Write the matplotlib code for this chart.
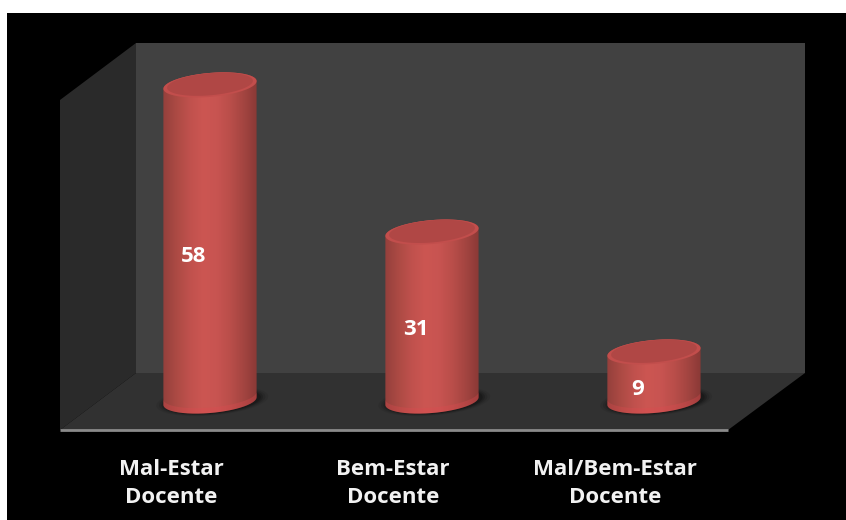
import numpy as np
import matplotlib
matplotlib.use("Agg")
import matplotlib.pyplot as plt
from matplotlib.patches import Polygon, Rectangle, PathPatch
from matplotlib.path import Path

categories = ["Mal-Estar\nDocente", "Bem-Estar\nDocente", "Mal/Bem-Estar\nDocente"]
values = [58, 31, 9]

plt.rcParams["font.family"] = ["Open Sans", "DejaVu Sans"]

fig = plt.figure(figsize=(8.46, 5.2), dpi=100, facecolor="white")

# background box, in pixel units
bg = fig.add_axes([0, 0, 1, 1])
bg.set_xlim(0, 846)
bg.set_ylim(520, 0)
bg.axis("off")
bg.add_patch(Rectangle((7, 13), 839, 507, color="black", lw=0))
bg.add_patch(Polygon([(136, 43), (805, 43), (805, 373), (136, 373)], color="#414141", lw=0))
bg.add_patch(Polygon([(60, 100), (136, 43), (136, 373), (60, 430)], color="#2a2a2a", lw=0))
bg.add_patch(Polygon([(60, 430), (136, 373), (805, 373), (728, 430)], color="#313131", lw=0))
bg.plot([60, 728], [430, 430], color="#8a8a8a", lw=2, solid_capstyle="butt")

# value axes on top of the box
ax = fig.add_axes([0, 0, 1, 1])
ax.patch.set_alpha(0)
ax.axis("off")

half_w = 0.21
half_h = 2.2
tilt = 0.7

side_colors = ["#94403c", "#ac4a44", "#c0514d", "#cc5652", "#c85451", "#ba4e4a", "#a44541", "#8a3936"]
side_cmap = matplotlib.colors.LinearSegmentedColormap.from_list("side", side_colors)


def ellipse_xy(cx, level, scale=1.0, start=0.0, stop=2 * np.pi):
    t = np.linspace(start, stop, 80)
    x = cx + half_w * scale * np.cos(t)
    y = level + half_h * scale * np.sin(t) + tilt * scale * np.cos(t)
    return x, y


def cylinder(cx, v):
    # soft shadow on the floor
    for s, a in zip([1.2, 1.14, 1.09, 1.04], [0.12, 0.2, 0.3, 0.5]):
        x, y = ellipse_xy(cx + 0.01, 0, s)
        ax.fill(x, y, color="#141414", alpha=a, lw=0, zorder=2)

    # side wall: front half of the base joined to front half of the top
    bx, by = ellipse_xy(cx, 0, 1.0, np.pi, 2 * np.pi)
    tx, ty = ellipse_xy(cx, v, 1.0, 0, np.pi)
    verts = np.column_stack([np.r_[bx, tx], np.r_[by, ty]])
    clip = PathPatch(Path(np.vstack([verts, verts[0]])), transform=ax.transData)
    grad = np.linspace(0, 1, 256).reshape(1, -1)
    img = ax.imshow(grad, cmap=side_cmap, aspect="auto", zorder=3,
                    extent=[cx - half_w, cx + half_w, -half_h - tilt, v + half_h + tilt])
    img.set_clip_path(clip)

    # brighter red band along the bottom edge
    ax.fill(np.r_[bx, bx[::-1]], np.r_[by, by[::-1] + 1.0], color="#e04a50", alpha=0.3, lw=0, zorder=4)

    # top cap with a faint lighter rim
    x, y = ellipse_xy(cx, v)
    ax.fill(x, y, color="#c24e4c", lw=0, zorder=5)
    x, y = ellipse_xy(cx, v + 0.12, 0.92)
    ax.fill(x, y, color="#b04745", lw=0, zorder=6)


for i, v in enumerate(values):
    cylinder(i, v)
    ax.text(i - 0.072, v / 2 - half_h - 0.2, str(v), color="white", fontsize=16, fontweight="bold",
            ha="center", va="center", zorder=7)
    ax.text(i - 0.175, -15.1, categories[i], color="#f2f2f2", fontsize=16, fontweight="bold",
            ha="center", va="center", linespacing=1.4, zorder=7)

ax.set_xlim(-0.946, 2.865)
ax.set_ylim(-21.83, 73.58)

fig.savefig("out.png", dpi=100, facecolor="white")
